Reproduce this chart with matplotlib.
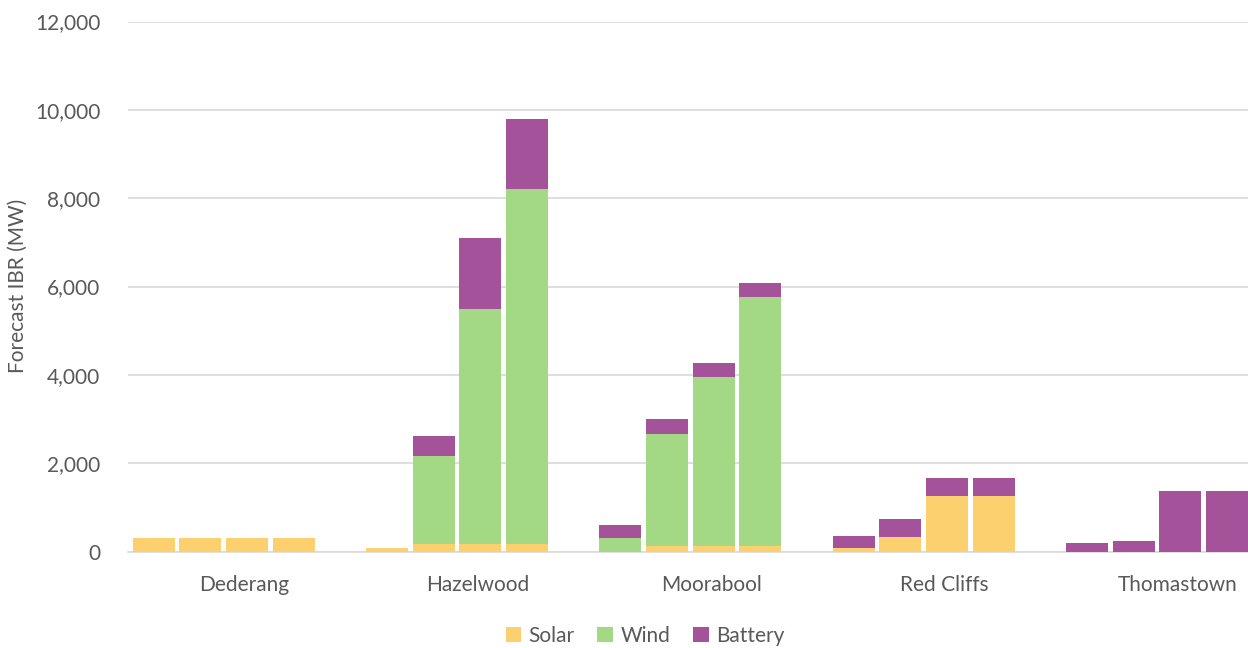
import numpy as np
import matplotlib.pyplot as plt

plt.rcParams["font.family"] = ["Lato", "DejaVu Sans"]

# Forecast inverter-based resources (MW) per terminal station, four scenarios each
stations = ["Dederang", "Hazelwood", "Moorabool", "Red Cliffs", "Thomastown"]
solar = [
    [300, 300, 300, 300],
    [80, 170, 170, 170],
    [0, 125, 125, 125],
    [90, 320, 1265, 1265],
    [0, 0, 0, 0],
]
wind = [
    [0, 0, 0, 0],
    [0, 2000, 5330, 8040],
    [310, 2545, 3825, 5635],
    [0, 0, 0, 0],
    [0, 0, 0, 0],
]
battery = [
    [0, 0, 0, 0],
    [0, 450, 1600, 1580],
    [290, 330, 310, 320],
    [270, 415, 400, 400],
    [190, 230, 1370, 1370],
]

colors = {"Solar": "#FCD06F", "Wind": "#A3D984", "Battery": "#A45299"}

fig = plt.figure(figsize=(12.48, 6.48), dpi=100)
ax = fig.add_axes([128 / 1248, 96.5 / 648, 1120 / 1248, 530 / 648])

# five slots per station: four bars and one empty gap
slots = 5
for i in range(len(stations)):
    x = i * slots + np.arange(4) + 0.55
    s = np.array(solar[i])
    w = np.array(wind[i])
    b = np.array(battery[i])
    ax.bar(x, s, width=0.9, color=colors["Solar"], label="Solar" if i == 0 else None, zorder=3)
    ax.bar(x, w, width=0.9, bottom=s, color=colors["Wind"], label="Wind" if i == 0 else None, zorder=3)
    ax.bar(x, b, width=0.9, bottom=s + w, color=colors["Battery"], label="Battery" if i == 0 else None, zorder=3)

ax.set_xlim(0, 24)
ax.set_ylim(0, 12000)
ax.set_yticks(np.arange(0, 12001, 2000))
ax.set_yticklabels([f"{v:,}" for v in range(0, 12001, 2000)])
ax.set_xticks([i * slots + 2.5 for i in range(len(stations))])
ax.set_xticklabels(stations)

ax.grid(axis="y", color="#D9D9D9", linewidth=1.2, zorder=0)
for side in ["top", "right", "left"]:
    ax.spines[side].set_visible(False)
ax.spines["bottom"].set_color("#D9D9D9")
ax.spines["bottom"].set_linewidth(1.2)
ax.tick_params(axis="both", length=0, labelsize=15, labelcolor="#595959")
ax.tick_params(axis="x", pad=17)
ax.tick_params(axis="y", pad=20)

# axis title placed on the figure so it stays inside the left margin
fig.text(18 / 1248, 1 - 286 / 648, "Forecast IBR (MW)", rotation=90, ha="center", va="center",
         fontsize=15, color="#595959")

handles, labels = ax.get_legend_handles_labels()
fig.legend(handles, labels, loc="center", bbox_to_anchor=(645 / 1248, 1 - 636 / 648),
           ncol=3, frameon=False, fontsize=15, labelcolor="#595959",
           handlelength=0.75, handleheight=0.75, handletextpad=0.35, columnspacing=1.1)

fig.savefig("out.png", dpi=100)
